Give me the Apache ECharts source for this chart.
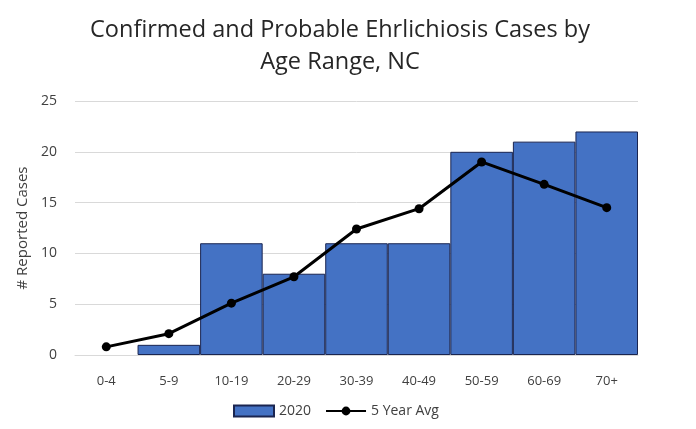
<!DOCTYPE html>
<html>
<head>
<meta charset="utf-8">
<script src="https://cdn.jsdelivr.net/npm/echarts@6/dist/echarts.min.js"></script>
<style>
  html, body { margin: 0; padding: 0; background: #fff; }
  #chart { width: 696px; height: 429px; }
</style>
</head>
<body>
<div id="chart"></div>
<script>
// age ranges on the x axis
const ageRanges = ['0-4', '5-9', '10-19', '20-29', '30-39', '40-49', '50-59', '60-69', '70+']
// 2020 reported cases
const cases2020 = [0, 1, 11, 8, 11, 11, 20, 21, 22]
// 5 year average
const fiveYearAvg = [0.8, 2.1, 5.1, 7.7, 12.4, 14.4, 19.0, 16.8, 14.5]

const FONT = '"Open Sans", "Noto Sans", sans-serif'
const chart = echarts.init(document.getElementById('chart'))

// zero bars get no outline, like the original
const barData = cases2020.map(v => v === 0 ? { value: v, itemStyle: { borderWidth: 0 } } : v)

const option = {
  backgroundColor: '#fff',
  animation: false,
  textStyle: { fontFamily: FONT },
  title: {
    text: 'Confirmed and Probable Ehrlichiosis Cases by\nAge Range, NC',
    left: 335,
    textAlign: 'center',
    top: 9,
    textStyle: {
      fontFamily: FONT,
      fontSize: 23.5,
      fontWeight: 'normal',
      color: '#262626',
      lineHeight: 32
    }
  },
  legend: {
    bottom: 6,
    left: 228,
    itemGap: 14,
    itemWidth: 40,
    itemHeight: 11,
    textStyle: { fontSize: 14, color: '#404040', fontFamily: FONT },
    data: [
      { name: '2020', icon: 'rect' },
      { name: '5 Year Avg' }
    ]
  },
  grid: {
    left: 75,
    right: 58,
    top: 101,
    bottom: 74
  },
  xAxis: {
    type: 'category',
    data: ageRanges,
    axisTick: { show: false },
    axisLine: { lineStyle: { color: '#d9d9d9', width: 1 } },
    axisLabel: { color: '#404040', fontSize: 13, margin: 20 }
  },
  yAxis: {
    type: 'value',
    min: 0,
    max: 25,
    interval: 5,
    name: '# Reported Cases',
    nameLocation: 'middle',
    nameGap: 30,
    nameTextStyle: { color: '#404040', fontSize: 15 },
    axisLabel: { color: '#404040', fontSize: 14, margin: 18 },
    axisLine: { show: false },
    axisTick: { show: false },
    splitLine: { lineStyle: { color: '#d9d9d9' } }
  },
  series: [
    {
      name: '2020',
      type: 'bar',
      data: barData,
      barCategoryGap: 0,
      itemStyle: {
        color: '#4472C4',
        borderColor: '#1a2550',
        borderWidth: 1
      }
    },
    {
      name: '5 Year Avg',
      type: 'line',
      data: fiveYearAvg,
      symbol: 'circle',
      symbolSize: 9,
      lineStyle: { color: '#000', width: 3 },
      itemStyle: { color: '#000' }
    }
  ]
}

chart.setOption(option)
</script>
</body>
</html>
